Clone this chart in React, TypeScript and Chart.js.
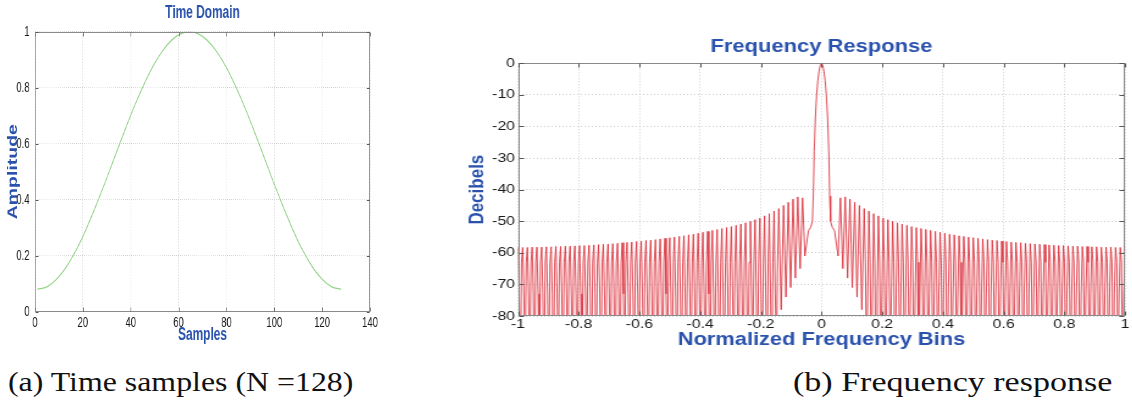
import React, { useEffect, useRef } from "react";
import { Chart, registerables } from "chart.js";

Chart.register(...registerables);

// ---------- (a) Time samples (Hamming window, N = 128) ----------
const timeSamples = [1, 5, 9, 13, 17, 21, 25, 29, 33, 37, 41, 45, 49, 53, 57, 61, 64.5, 68, 72, 76, 80, 84, 88, 92, 96, 100, 104, 108, 112, 116, 120, 124, 128];
const amplitude = [0.080, 0.089, 0.116, 0.159, 0.217, 0.288, 0.369, 0.455, 0.546, 0.636, 0.723, 0.802, 0.872, 0.928, 0.969, 0.993, 1.0, 0.993, 0.969, 0.928, 0.872, 0.802, 0.723, 0.636, 0.546, 0.455, 0.369, 0.288, 0.217, 0.159, 0.116, 0.089, 0.080];
const sampleTicks = [0, 20, 40, 60, 80, 100, 120, 140];
const amplitudeTicks = [0, 0.2, 0.4, 0.6, 0.8, 1];

// ---------- (b) Frequency response ----------
const freqTicks = [-1, -0.8, -0.6, -0.4, -0.2, 0, 0.2, 0.4, 0.6, 0.8, 1];
const dbTicks = [-80, -70, -60, -50, -40, -30, -20, -10, 0];
// main lobe (offsets from 0, dB) – mirrored on both sides
const mainLobeOffsets = [0, 0.004, 0.008, 0.012, 0.016, 0.02, 0.024, 0.027, 0.03, 0.036, 0.043];
const mainLobeDb = [0, -0.6, -2.5, -5.5, -10, -17, -28, -42, -50, -52, -53];
// side-lobe peaks, outward from the first side lobe (one per lobe)
const firstSidelobeOffset = 0.0625;
const sidelobeSpacing = 1 / 64;
const sidelobePeakDb = [
  -42.6, -42.3, -43.0, -44.0, -45.0, -46.0, -46.8, -47.6, -48.3, -49.0,
  -49.5, -50.0, -50.5, -50.9, -51.3, -51.7, -52.0, -52.3, -52.6, -52.9,
  -53.2, -53.5, -53.8, -54.1, -54.3, -54.6, -54.8, -55.0, -55.2, -55.4,
  -55.6, -55.8, -56.0, -56.1, -56.3, -56.4, -56.6, -56.7, -56.8, -57.0,
  -57.1, -57.2, -57.3, -57.4, -57.5, -57.6, -57.7, -57.7, -57.8, -57.9,
  -57.9, -58.0, -58.0, -58.1, -58.1, -58.2, -58.2, -58.2, -58.3, -58.3, -58.3,
];
// trough before each side-lobe peak
const sidelobeNullDb = [
  -61, -65, -68, -71, -74, -78, -92, -98, -104, -96,
  -100, -94, -106, -98, -102, -95, -108, -99, -101, -97,
  -103, -96, -100, -105, -98, -94, -101, -99, -104, -97,
  -100, -95, -106, -98, -102, -96, -99, -103, -97, -100,
  -105, -98, -94, -101, -99, -104, -96, -100, -102, -97,
  -99, -103, -95, -100, -98, -104, -97, -101, -99, -96, -100,
];
// level of the kinks seen on the deep troughs (falling, rising)
const troughKneeDb = [-63, -73];

const BLUE = "#2a52ad";
const SANS = "'Liberation Sans', Arial, Helvetica, sans-serif";

function buildFrequencyPoints() {
  const right: { x: number; y: number }[] = mainLobeOffsets.map((x, i) => ({ x, y: mainLobeDb[i] }));
  sidelobePeakDb.forEach((peak, k) => {
    const xp = firstSidelobeOffset + k * sidelobeSpacing;
    const nul = sidelobeNullDb[k];
    if (nul > -80) {
      right.push({ x: xp - sidelobeSpacing / 2, y: nul });
    } else {
      right.push({ x: xp - (3 * sidelobeSpacing) / 4, y: troughKneeDb[0] });
      right.push({ x: xp - sidelobeSpacing / 2, y: nul });
      right.push({ x: xp - sidelobeSpacing / 4, y: troughKneeDb[1] });
    }
    right.push({ x: xp, y: peak });
  });
  const left = right.slice(1).map((p) => ({ x: -p.x, y: p.y })).reverse();
  return [...left, ...right];
}

const fmt = (v: any) => String(Math.round(Number(v) * 10) / 10);

const framePlugin = {
  id: "matlabFrame",
  afterDraw(chart: any) {
    const { ctx, chartArea: a, scales } = chart;
    const l = Math.round(a.left) + 0.5;
    const r = Math.round(a.right) - 0.5;
    const t = Math.round(a.top) + 0.5;
    const b = Math.round(a.bottom) - 0.5;
    ctx.save();
    ctx.strokeStyle = "#8a8a8a";
    ctx.lineWidth = 1;
    ctx.setLineDash([]);
    ctx.strokeRect(l, t, r - l, b - t);
    ctx.strokeStyle = "#555";
    const len = 4;
    ctx.beginPath();
    scales.x.ticks.forEach((tk: any) => {
      const px = Math.round(scales.x.getPixelForValue(tk.value)) + 0.5;
      ctx.moveTo(px, b);
      ctx.lineTo(px, b - len);
      ctx.moveTo(px, t);
      ctx.lineTo(px, t + len);
    });
    scales.y.ticks.forEach((tk: any) => {
      const py = Math.round(scales.y.getPixelForValue(tk.value)) + 0.5;
      ctx.moveTo(l, py);
      ctx.lineTo(l + len, py);
      ctx.moveTo(r, py);
      ctx.lineTo(r - len, py);
    });
    ctx.stroke();
    ctx.restore();
  },
};

function gridOpts() {
  return { color: "#cdcdcd", lineWidth: 1, drawTicks: false };
}

function timeConfig(): any {
  return {
    type: "line",
    data: {
      datasets: [
        {
          data: timeSamples.map((x, i) => ({ x, y: amplitude[i] })),
          borderColor: "#92d486",
          borderWidth: 1.3,
          pointRadius: 0,
          cubicInterpolationMode: "monotone",
          fill: false,
        },
      ],
    },
    options: {
      responsive: false,
      animation: false,
      devicePixelRatio: 1,
      layout: { padding: { left: 0, right: 43.9, top: 0, bottom: 0 } },
      plugins: {
        legend: { display: false },
        tooltip: { enabled: false },
        title: {
          display: true,
          fullSize: false,
          text: "Time Domain",
          color: BLUE,
          font: { family: SANS, size: 17.5, weight: "bold", lineHeight: 1.2 },
          padding: { top: 2.5, bottom: 8.2 },
        },
      },
      scales: {
        x: {
          type: "linear",
          min: sampleTicks[0],
          max: sampleTicks[sampleTicks.length - 1],
          afterBuildTicks: (s: any) => {
            s.ticks = sampleTicks.map((v) => ({ value: v }));
          },
          afterFit: (s: any) => {
            s.height = 40.3;
          },
          grid: gridOpts(),
          border: { display: false, dash: [1, 2] },
          ticks: { color: "#1a1a1a", font: { family: SANS, size: 14 }, padding: 3, maxRotation: 0, autoSkip: false, callback: fmt },
          title: {
            display: true,
            text: "Samples",
            color: BLUE,
            font: { family: SANS, size: 17.5, weight: "bold", lineHeight: 1.2 },
            padding: { top: 0, bottom: 6 },
          },
        },
        y: {
          type: "linear",
          min: amplitudeTicks[0],
          max: amplitudeTicks[amplitudeTicks.length - 1],
          afterBuildTicks: (s: any) => {
            s.ticks = amplitudeTicks.map((v) => ({ value: v }));
          },
          afterFit: (s: any) => {
            s.width = 51.5;
          },
          grid: gridOpts(),
          border: { display: false, dash: [1, 2] },
          ticks: { color: "#1a1a1a", font: { family: SANS, size: 14 }, padding: 8, autoSkip: false, callback: fmt },
          title: {
            display: true,
            text: "Amplitude",
            color: BLUE,
            font: { family: SANS, size: 19.5, weight: "bold", lineHeight: 1.2 },
            padding: { top: 7.9, bottom: 0 },
          },
        },
      },
    },
    plugins: [framePlugin],
  };
}

function freqConfig(): any {
  return {
    type: "line",
    data: {
      datasets: [
        {
          data: buildFrequencyPoints(),
          borderColor: "rgba(218,48,60,0.85)",
          borderWidth: 1,
          pointRadius: 0,
          tension: 0,
          fill: false,
        },
      ],
    },
    options: {
      responsive: false,
      animation: false,
      devicePixelRatio: 1,
      layout: { padding: { left: 0, right: 5.9, top: 0, bottom: 0 } },
      plugins: {
        legend: { display: false },
        tooltip: { enabled: false },
        title: {
          display: true,
          fullSize: false,
          text: "Frequency Response",
          color: BLUE,
          font: { family: SANS, size: 18, weight: "bold", lineHeight: 1.2 },
          padding: { top: 36.7, bottom: 5 },
        },
      },
      scales: {
        x: {
          type: "linear",
          min: freqTicks[0],
          max: freqTicks[freqTicks.length - 1],
          afterBuildTicks: (s: any) => {
            s.ticks = freqTicks.map((v) => ({ value: v }));
          },
          afterFit: (s: any) => {
            s.height = 36;
          },
          grid: gridOpts(),
          border: { display: false, dash: [1, 2] },
          ticks: { color: "#1a1a1a", font: { family: SANS, size: 13 }, padding: 1, maxRotation: 0, autoSkip: false, callback: fmt },
          title: {
            display: true,
            text: "Normalized Frequency Bins",
            color: BLUE,
            font: { family: SANS, size: 17.9, weight: "bold", lineHeight: 1.2 },
            padding: { top: 0, bottom: 1.2 },
          },
        },
        y: {
          type: "linear",
          min: dbTicks[0],
          max: dbTicks[dbTicks.length - 1],
          afterBuildTicks: (s: any) => {
            s.ticks = dbTicks.map((v) => ({ value: v }));
          },
          afterFit: (s: any) => {
            s.width = 47.5;
          },
          grid: gridOpts(),
          border: { display: false, dash: [1, 2] },
          ticks: { color: "#1a1a1a", font: { family: SANS, size: 13 }, padding: 2.4, autoSkip: false, callback: fmt },
          title: {
            display: true,
            text: "Decibels",
            color: BLUE,
            font: { family: SANS, size: 17, weight: "bold", lineHeight: 1.2 },
            padding: { top: 4.1, bottom: 0 },
          },
        },
      },
    },
    plugins: [framePlugin],
  };
}

// The original figure panels are stretched horizontally; the canvas is drawn at
// its natural size and the panel is scaled along x to the reference proportions.
function ChartPanel(props: { make: () => any; left: number; top: number; width: number; height: number; scaleX: number }) {
  const ref = useRef<HTMLCanvasElement>(null);
  useEffect(() => {
    const chart = new Chart(ref.current as HTMLCanvasElement, props.make());
    return () => chart.destroy();
  }, []);
  return (
    <div
      style={{
        position: "absolute",
        left: props.left,
        top: props.top,
        width: props.width,
        height: props.height,
        transform: `scaleX(${props.scaleX})`,
        transformOrigin: "left top",
      }}
    >
      <canvas ref={ref} width={props.width} height={props.height} style={{ width: props.width, height: props.height, display: "block" }} />
    </div>
  );
}

const captionStyle: React.CSSProperties = {
  position: "absolute",
  top: 366,
  fontFamily: "'Liberation Serif', 'Times New Roman', serif",
  fontSize: 27,
  lineHeight: "32px",
  color: "#111",
  whiteSpace: "nowrap",
  transformOrigin: "left center",
};

export default function App() {
  useEffect(() => {
    document.body.style.margin = "0";
  }, []);
  return (
    <div style={{ position: "relative", width: 1132, height: 403, background: "#fff", overflow: "hidden" }}>
      <ChartPanel make={timeConfig} left={0} top={0} width={588} height={352} scaleX={0.68} />
      <ChartPanel make={freqConfig} left={460} top={0} width={551} height={352} scaleX={1.22} />
      <div style={{ ...captionStyle, left: 8, transform: "scaleX(1.18)" }}>(a) Time samples (N =128)</div>
      <div style={{ ...captionStyle, left: 793, transform: "scaleX(1.26)" }}>(b) Frequency response</div>
    </div>
  );
}
